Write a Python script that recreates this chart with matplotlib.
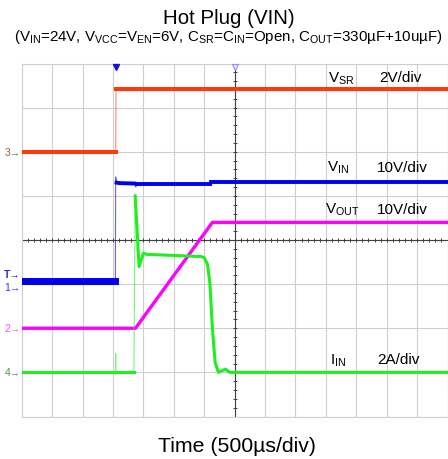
import numpy as np
import matplotlib.pyplot as plt

plt.rcParams['font.family'] = ['Liberation Sans', 'DejaVu Sans']
plt.rcParams['mathtext.fontset'] = 'custom'
plt.rcParams['mathtext.rm'] = 'Liberation Sans'
plt.rcParams['mathtext.it'] = 'Liberation Sans:italic'
plt.rcParams['mathtext.bf'] = 'Liberation Sans:bold'

# time in ms, 0 at screen centre, 500us/div, 14 x 8 divisions
TIME_DIV = 0.5
N_XDIV = 14
N_YDIV = 8
trigger_t = -1.95
trigger_level = 3.0  # on V_IN

# CH3: V_SR (V)
vsr_t = [-3.5, -1.955, -1.95, 3.5]
vsr_v = [0.0, 0.0, 2.86, 2.86]

# CH1: V_IN (V)
vin_t = [-3.5, -1.96, -1.955, -1.94, -1.90, -1.65, -1.625, -1.60, -0.40, -0.38, 3.5]
vin_v = [1.5, 1.5, 25.0, 23.7, 23.6, 23.5, 22.7, 23.5, 23.5, 23.9, 23.9]

# CH2: V_OUT (V)
vout_t = [-3.5, -1.63, -0.365, 3.5]
vout_v = [0.0, 0.0, 24.0, 24.0]

# CH4: I_IN (A)
iin_t = [-3.5, -1.96, -1.955, -1.95, -1.655, -1.635, -1.57, -1.50, -1.45,
         -0.55, -0.5, -0.446, -0.407, -0.364, -0.32, -0.266, -0.15, -0.08, 3.5]
iin_a = [0.0, 0.0, 0.85, 0.0, 0.0, 8.0, 4.8, 5.4, 5.35,
         5.25, 5.2, 4.9, 4.07, 1.96, 0.45, 0.0, 0.15, 0.0, 0.0]

# ground position (div) and scale per channel
ch_gnd = {'vin': 2.93, 'vout': 2.0, 'vsr': 6.0, 'iin': 1.0}
ch_scale = {'vin': 10.0, 'vout': 10.0, 'vsr': 2.0, 'iin': 2.0}
ch_color = {'vin': '#0000f0', 'vout': '#ff00ff', 'vsr': '#ff3a0a', 'iin': '#1ef01e'}

fig = plt.figure(figsize=(4.48, 4.6), dpi=100)
ax = fig.add_axes([21.7 / 448, 1 - 417.5 / 460, 425.8 / 448, 353 / 460])

half = TIME_DIV * N_XDIV / 2
ax.set_xlim(-half, half)
ax.set_ylim(0, N_YDIV)
ax.set_xticks(np.arange(-half, half + 0.01, TIME_DIV))
ax.set_yticks(range(N_YDIV + 1))
ax.grid(True, color='#cfcfcf', lw=0.8)
ax.tick_params(length=0, labelbottom=False, labelleft=False)
for s in ax.spines.values():
    s.set_color('#cfcfcf')
    s.set_linewidth(0.8)

# centre cross with 0.2 div ticks
ax.axhline(N_YDIV / 2, color='#404040', lw=0.8)
ax.axvline(0, color='#404040', lw=0.8)
xt = np.arange(-half, half + 0.01, TIME_DIV / 5)
ax.plot(xt, np.full_like(xt, N_YDIV / 2), ls='none', marker='|', ms=2.5, mew=0.7, color='#404040')
yt = np.arange(0, N_YDIV + 0.01, 0.2)
ax.plot(np.zeros_like(yt), yt, ls='none', marker='_', ms=2.5, mew=0.7, color='#404040')


def channel_axes(key):
    a = ax.twinx()
    g, s = ch_gnd[key], ch_scale[key]
    a.set_ylim(-g * s, (N_YDIV - g) * s)
    a.set_xlim(-half, half)
    a.axis('off')
    return a


def draw_trace(a, t, v, color, lw):
    t = np.asarray(t)
    v = np.asarray(v)
    # near-vertical edges drawn thin, settled parts thick
    a.plot(t, v, color=color, lw=0.8, alpha=0.6)
    start = 0
    for i in range(len(t) - 1):
        if t[i + 1] - t[i] < 0.03:
            a.plot(t[start:i + 1], v[start:i + 1], color=color, lw=lw)
            start = i + 1
    a.plot(t[start:], v[start:], color=color, lw=lw)


ax_vin = channel_axes('vin')
draw_trace(ax_vin, vin_t, vin_v, ch_color['vin'], 2.8)
ax_vin.plot(vin_t[:2], vin_v[:2], color=ch_color['vin'], lw=5)

ax_vout = channel_axes('vout')
draw_trace(ax_vout, vout_t, vout_v, ch_color['vout'], 2.4)

ax_vsr = channel_axes('vsr')
draw_trace(ax_vsr, vsr_t, vsr_v, ch_color['vsr'], 2.9)

ax_iin = channel_axes('iin')
draw_trace(ax_iin, iin_t, iin_a, ch_color['iin'], 2.2)

# trigger position and screen-centre markers
ax.plot(trigger_t, N_YDIV - 0.07, marker='v', ms=5, color='#1010e0', clip_on=False, zorder=5)
ax.plot(0, N_YDIV - 0.07, marker='v', ms=5, mfc='#eeeeff', mec='#8c8cff', mew=0.8, clip_on=False, zorder=5)

# ground / trigger markers on the left edge
mk = dict(ha='right', va='center', fontsize=7.5, clip_on=False)
ax_vsr.text(-half - 0.02, 0, '3\u2192', color='#9a6040', **mk)
ax_vin.text(-half - 0.02, trigger_level, 'T\u2192', color='#2a2ad0', fontweight='bold', **mk)
ax_vin.text(-half - 0.02, 0, '1\u2192', color='#3a3ad8', **mk)
ax_vout.text(-half - 0.02, 0, '2\u2192', color='#ff50ff', **mk)
ax_iin.text(-half - 0.02, 0, '4\u2192', color='#4c9a4c', **mk)

# channel names and scales
lab = dict(fontsize=11, va='baseline')
ax.text(1.536, 7.60, r'$\mathrm{V_{SR}}$', **lab)
ax.text(2.374, 7.60, '2V/div', **lab)
ax.text(1.52, 5.57, r'$\mathrm{V_{IN}}$', **lab)
ax.text(2.337, 5.57, '10V/div', **lab)
ax.text(1.49, 4.61, r'$\mathrm{V_{OUT}}$', **lab)
ax.text(2.337, 4.61, '10V/div', **lab)
ax.text(1.57, 1.21, r'$\mathrm{I_{IN}}$', **lab)
ax.text(2.34, 1.21, '2A/div', **lab)

fig.text(229 / 448, 1 - 24.5 / 460, 'Hot Plug (VIN)', ha='center', va='baseline', fontsize=14.8)
fig.text(228 / 448, 1 - 41.5 / 460,
         '(' + r'$\mathrm{V_{IN}}$' + '=24V, ' + r'$\mathrm{V_{VCC}}$' + '=' + r'$\mathrm{V_{EN}}$'
         + '=6V, ' + r'$\mathrm{C_{SR}}$' + '=' + r'$\mathrm{C_{IN}}$' + '=Open, '
         + r'$\mathrm{C_{OUT}}$' + '=330µF+10uµF)',
         ha='center', va='baseline', fontsize=10.9)
fig.text(237 / 448, 1 - 452 / 460, 'Time (500µs/div)', ha='center', va='baseline', fontsize=15.3)

fig.savefig('out.png', dpi=100)
